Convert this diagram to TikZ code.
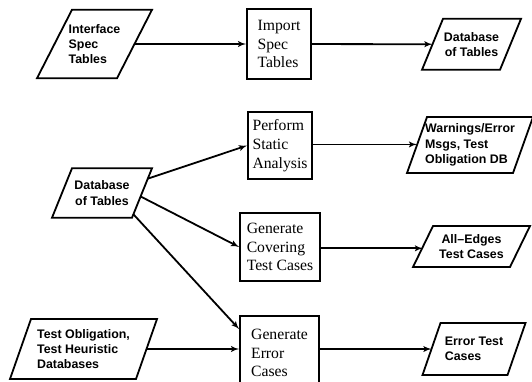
\documentclass[tikz,border=0pt]{standalone}
\usepackage{fontspec}
\setmainfont{Liberation Serif}
\newfontfamily\hvfont{Liberation Sans}
\usetikzlibrary{arrows}
\usetikzlibrary{calc}
\usetikzlibrary{positioning}
\tikzset{proc/.style = {draw, rectangle, minimum width = 64, minimum height = 67, align = left, inner xsep = 4, font = \fontsize{15.7}{18.7}\selectfont}}
\tikzset{data/.style = {rectangle, inner sep = 0, outer sep = 0, font = \hvfont\bfseries\fontsize{12.4}{15.3}\selectfont}}
% slanted outline round a data node: #1 node, #2 half of the slant
\newcommand{\paraframe}[2]{\draw ([xshift = -#2]#1.south west) -- ([xshift = #2]#1.north west) -- ([xshift = #2]#1.north east) -- ([xshift = -#2]#1.south east) -- cycle;}

\begin{document}
\begin{tikzpicture}[x = 1pt, y = -1pt, line width = 1.8pt]
    \useasboundingbox (0, 0) rectangle (532, 381);

    \node [data, minimum width = 80, minimum height = 68.5, align = left] (ifc) at (94.5, 44) {Interface\\Spec\\Tables};
    \paraframe{ifc}{17.5}
    \node [proc, minimum height = 69.5] (imp) at (279, 44) {Import\\Spec\\Tables};
    \node [data, minimum width = 78, minimum height = 51, align = center] (db1) at (471.5, 44.3) {Database\\of Tables};
    \paraframe{db1}{10.5}

    \node [data, minimum width = 80, minimum height = 49.5, align = center] (db2) at (102, 193) {Database\\of Tables};
    \paraframe{db2}{10}
    \coordinate (db2 br) at ([xshift = -10]db2.south east);
    \coordinate (db2 tr) at ([xshift = 10]db2.north east);
    \node [proc] (perf) at (280, 145.5) {Perform\\Static\\Analysis};
    \node [data, minimum width = 106, minimum height = 56, align = left] (warn) at (470, 145) {Warnings/Error\\Msgs, Test\\Obligation DB};
    \paraframe{warn}{10}

    \node [proc, minimum width = 80, minimum height = 67.5] (cov) at (280, 247) {Generate\\Covering\\Test Cases};
    \node [data, minimum width = 97, minimum height = 41, align = center] (alle) at (471.5, 246.5) {All–Edges\\Test Cases};
    \paraframe{alle}{10}

    \node [data, minimum width = 126, minimum height = 60, align = left] (tob) at (83.5, 349) {Test Obligation,\\Test Heuristic\\Databases};
    \paraframe{tob}{10.5}
    \node [proc, minimum width = 79, minimum height = 74] (err) at (279.5, 353) {Generate\\Error\\Cases};
    \node [data, minimum width = 85, minimum height = 52, align = left] (etc) at (474, 349) {Error Test\\Cases};
    \paraframe{etc}{9}

    \draw [-latex'] (ifc) -- (imp);
    \draw [-latex'] (imp) -- (db1);

    \draw [-latex'] ($(db2 br)!0.79!(db2 tr)$) -- (perf.west);
    \draw [-latex'] ($(db2 br)!0.43!(db2 tr)$) -- (cov.west);
    \draw [-latex'] ($(db2 br)!0.07!(db2 tr)$) -- ([yshift = -14]err.north west);

    \draw [-latex'] (perf.east |- 0, 144.4) -- (warn.west |- 0, 144.4);
    \draw [-latex'] (cov.east |- 0, 248.3) -- (alle.west |- 0, 248.3);
    \draw [-latex'] (tob) -- (tob -| err.west);
    \draw [-latex'] (err.east |- etc) -- (etc);
  \end{tikzpicture}
\end{document}
